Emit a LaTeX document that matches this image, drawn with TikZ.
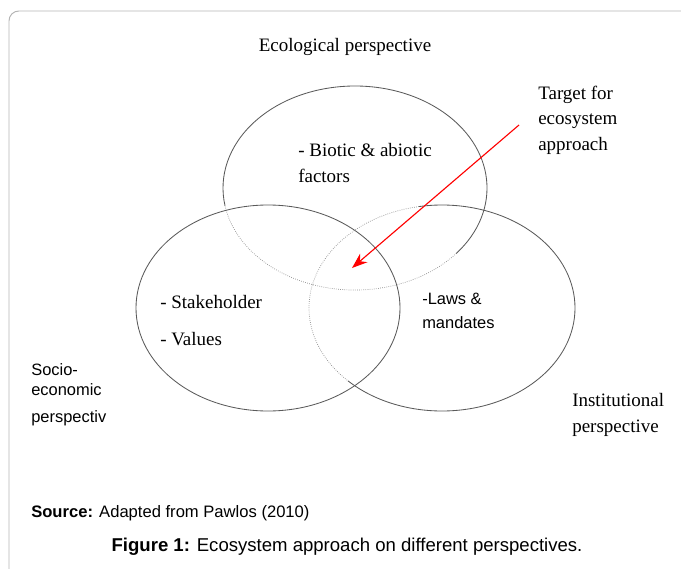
\documentclass[tikz,border=0pt]{standalone}
\usepackage{fontspec}
\setmainfont{Liberation Serif}
\setsansfont{Liberation Sans}
\usepackage{xcolor}
\usetikzlibrary{arrows.meta}

\definecolor{ringgray}{HTML}{5A5A5A}
\definecolor{framegray}{HTML}{B4B4B4}

\tikzset{
  ring/.style={draw=ringgray, line width=0.6pt},
  faintring/.style={draw=ringgray!70, line width=0.5pt, densely dotted},
  serifnote/.style={font=\fontsize{13.5}{17.8}\selectfont, inner sep=0pt, align=left, anchor=base west},
  sansnote/.style={font=\sffamily\fontsize{11.7}{16.4}\selectfont, inner sep=0pt, align=left, anchor=base west}
}

\begin{document}
\begin{tikzpicture}[x=0.025cm, y=0.025cm]
            \useasboundingbox (0,0) rectangle (681,568);
            \clip (0,0) rectangle (681,568);
            \draw[framegray, line width=0.7pt, rounded corners=7pt] (9,557) rectangle (720,-30);

            % the three perspectives
            \draw[ring] (355,380) ++(320:132 and 102) arc[start angle=320, end angle=550, x radius=132, y radius=102];
            \draw[faintring] (355,380) ++(190:132 and 102) arc[start angle=190, end angle=320, x radius=132, y radius=102];
            \draw[ring] (268,260) ellipse (132 and 103);
            \draw[ring] (442,260) ++(225:133 and 103) arc[start angle=225, end angle=460, x radius=133, y radius=103];
            \draw[faintring] (442,260) ++(100:133 and 103) arc[start angle=100, end angle=225, x radius=133, y radius=103];

            % labels (multi-line ones sit on their last line)
            \node (eco) at (345,516) [anchor=base, font=\fontsize{13.5}{17.8}\selectfont, inner sep=0pt] {Ecological perspective};
            \node (target) at (538,418) [serifnote] {Target for\\ecosystem\\approach};
            \node (biotic) at (298,386) [serifnote] {- Biotic \& abiotic\\factors};
            \node (stake) at (160,260) [serifnote] {- Stakeholder};
            \node (values) at (160,223) [serifnote] {- Values};
            \node (laws) at (422,240) [sansnote] {-Laws \&\\mandates};
            \node (socio) at (31,146) [sansnote, font=\sffamily\fontsize{11.7}{14.2}\selectfont] {Socio-\\economic\\[5pt]perspectiv};
            \node (inst) at (572,136) [serifnote] {Institutional\\perspective};

            % arrow to the common core
            \coordinate (tail) at (519,443);
            \coordinate (core) at (352,300);
            \draw[red, line width=0.8pt, -{Stealth[length=11pt, width=8pt]}] (tail) -- (core);

            % caption
            \node (source) at (31,51) [anchor=base west, inner sep=0pt, font=\sffamily\fontsize{11.8}{14}\selectfont] {\textbf{Source:} Adapted from Pawlos (2010)};
            \node (caption) at (347,17) [anchor=base, inner sep=0pt, font=\sffamily\fontsize{13.2}{16}\selectfont] {\textbf{Figure 1:} Ecosystem approach on different perspectives.};
        \end{tikzpicture}
\end{document}
